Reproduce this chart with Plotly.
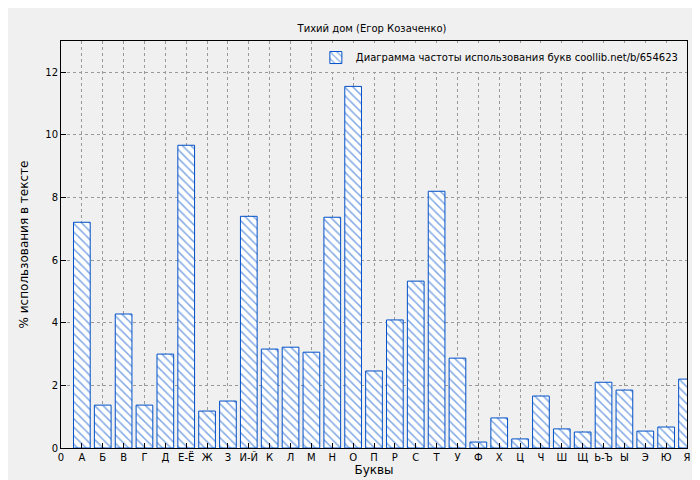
import plotly.graph_objects as go

letters = ["А", "Б", "В", "Г", "Д", "Е-Ё", "Ж", "З", "И-Й", "К", "Л", "М", "Н", "О", "П",
           "Р", "С", "Т", "У", "Ф", "Х", "Ц", "Ч", "Ш", "Щ", "Ь-Ъ", "Ы", "Э", "Ю", "Я"]
percents = [7.21, 1.37, 4.28, 1.37, 3.0, 9.67, 1.18, 1.5, 7.4, 3.16, 3.22, 3.06, 7.37, 11.55, 2.46,
            4.09, 5.33, 8.2, 2.87, 0.19, 0.96, 0.29, 1.66, 0.61, 0.51, 2.1, 1.85, 0.54, 0.67, 2.2]

positions = list(range(1, len(letters) + 1))

fig = go.Figure(
    go.Bar(
        x=positions,
        y=percents,
        width=0.8,
        name="Диаграмма частоты использования букв coollib.net/b/654623",
        marker=dict(
            color="#ffffff",
            line=dict(color="#0050c8", width=1),
            pattern=dict(shape="\\", fgcolor="#0050c8", bgcolor="#ffffff", size=6, solidity=0.25),
        ),
    )
)

fig.update_xaxes(
    range=[0, 30],
    tickvals=[0] + positions,
    ticktext=["0"] + letters,
    ticks="inside", ticklen=5, tickcolor="#000",
    showgrid=True, gridcolor="#999", griddash="dot",
    showline=True, linecolor="#000", mirror=True,
    automargin=False,
    title=dict(text="Буквы", standoff=2),
)
fig.update_yaxes(
    range=[0, 13],
    dtick=2,
    ticks="inside", ticklen=5, tickcolor="#000",
    showgrid=True, gridcolor="#999", griddash="dot",
    showline=True, linecolor="#000", mirror=True,
    zeroline=False,
    automargin=False,
    title=dict(text="% использования в тексте", standoff=14),
)

fig.update_layout(
    width=700, height=480,
    title=dict(text="Тихий дом (Егор Козаченко)", x=0.52, y=0.965, font=dict(size=10)),
    font=dict(family="DejaVu Sans", size=10, color="#000"),
    paper_bgcolor="#f0f0f0",
    plot_bgcolor="#f0f0f0",
    margin=dict(l=53, r=21, t=33, b=40),
    showlegend=True,
    legend=dict(x=0.995, y=0.995, xanchor="right", yanchor="top", bgcolor="#f0f0f0"),
)

fig.write_html("out.html")
